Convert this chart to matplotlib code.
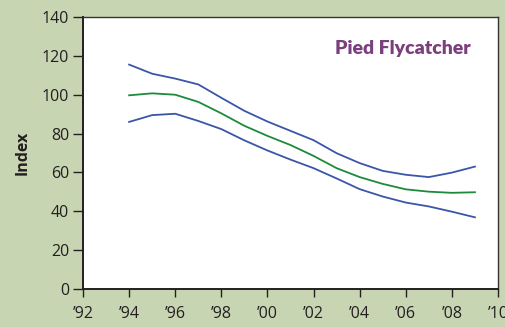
import numpy as np
import matplotlib.pyplot as plt

plt.rcParams['font.family'] = ['Open Sans', 'DejaVu Sans']

years = np.arange(1994, 2010)
upper = [115.5, 110.8, 108.3, 105.3, 98.4, 91.7, 86.2, 81.4, 76.6, 69.9, 64.8, 60.8, 58.8, 57.6, 59.9, 63.0]
index = [99.7, 100.7, 100.0, 96.3, 90.4, 84.0, 78.8, 74.1, 68.5, 62.2, 57.6, 54.1, 51.3, 50.1, 49.5, 49.8]
lower = [86.0, 89.5, 90.2, 86.5, 82.3, 76.5, 71.3, 66.6, 62.2, 56.9, 51.4, 47.6, 44.5, 42.5, 39.8, 36.9]

xticks = np.arange(1992, 2011, 2)
xlabels = ['\u2019' + str(y)[2:] for y in xticks]
yticks = np.arange(0, 141, 20)

bg = '#c8d5b3'
ink = '#231f20'
blue = '#3b55a8'
green = '#1d8a3c'

fig = plt.figure(figsize=(5.05, 3.27), dpi=100, facecolor=bg)
ax = fig.add_axes([0.1644, 0.1162, 0.8217, 0.8318])
ax.set_facecolor('white')

ax.plot(years, upper, color=blue, lw=1.3)
ax.plot(years, lower, color=blue, lw=1.3)
ax.plot(years, index, color=green, lw=1.3)

ax.set_xlim(1992, 2010)
ax.set_ylim(0, 140)
ax.set_xticks(xticks)
ax.set_xticklabels(xlabels)
ax.set_yticks(yticks)
ax.tick_params(axis='both', direction='out', colors=ink, labelsize=11.5, width=1.0)
ax.tick_params(axis='y', length=7, pad=3)
ax.tick_params(axis='x', length=6, pad=6)

for side in ['left', 'bottom']:
    ax.spines[side].set_color(ink)
    ax.spines[side].set_linewidth(1.4)
for side in ['top', 'right']:
    ax.spines[side].set_color('#333333')
    ax.spines[side].set_linewidth(1.0)

ax.set_ylabel('Index', fontsize=11.5, fontweight='bold', color=ink, labelpad=8)
ax.text(0.935, 0.885, 'Pied Flycatcher', transform=ax.transAxes, ha='right', va='center',
        fontsize=14, fontweight='heavy', color='#7b3f7e', family=['Lato', 'DejaVu Sans'])

fig.savefig('out.png', dpi=100, facecolor=bg)
